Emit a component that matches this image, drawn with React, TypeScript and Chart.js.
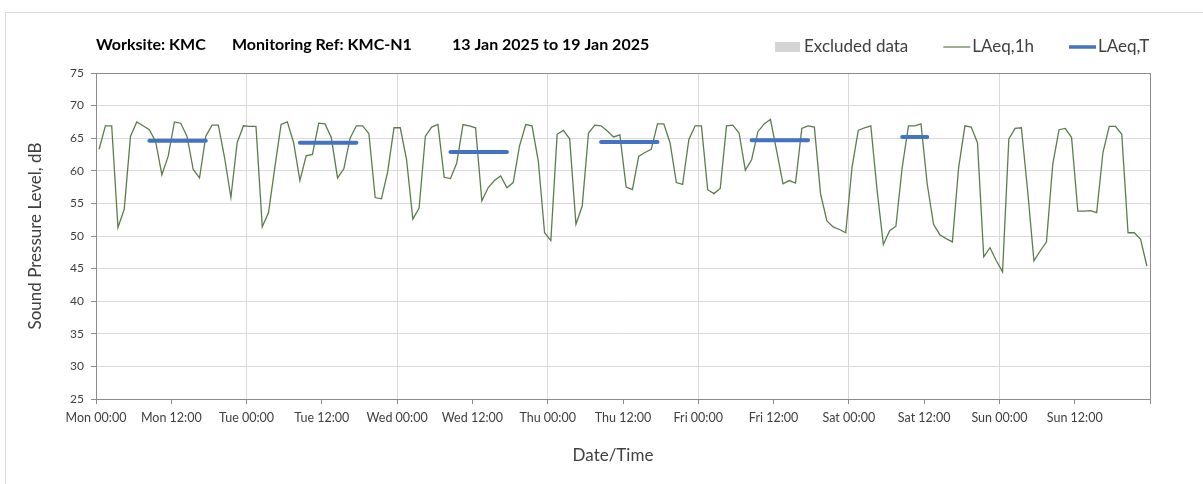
import React, { useEffect, useRef } from "react";
import { Chart, registerables } from "chart.js";

Chart.register(...registerables);

// ---- Text ----
const titleParts = ["Worksite: KMC", "Monitoring Ref: KMC-N1", "13 Jan 2025 to 19 Jan 2025"];
const yAxisTitle = "Sound Pressure Level, dB";
const xAxisTitle = "Date/Time";
const dayNames = ["Mon", "Tue", "Wed", "Thu", "Fri", "Sat", "Sun"];
const tickTimes = ["00:00", "12:00"];
const legendLabels = ["Excluded data", "LAeq,1h", "LAeq,T"];

// ---- LAeq,1h hourly values (dB), one array per day, hours 00..23 ----
const monHourly = [63.3, 66.9, 66.9, 51.3, 54.1, 65.3, 67.5, 66.9, 66.3, 64.5, 59.4, 62.2, 67.5, 67.3, 65.3, 60.2, 58.9, 65.3, 67.0, 67.0, 62.0, 55.9, 64.3, 66.9];
const tueHourly = [66.8, 66.8, 51.4, 53.6, 60.5, 67.1, 67.5, 64.3, 58.5, 62.3, 62.5, 67.3, 67.2, 65.1, 58.9, 60.3, 65.0, 66.9, 66.9, 65.7, 55.9, 55.7, 59.9, 66.6];
const wedHourly = [66.6, 61.7, 52.6, 54.3, 65.3, 66.7, 67.1, 59.0, 58.8, 61.2, 67.1, 66.9, 66.6, 55.4, 57.4, 58.5, 59.2, 57.4, 58.2, 63.8, 67.1, 66.9, 61.5, 50.5];
const thuHourly = [49.3, 65.6, 66.2, 64.9, 51.8, 54.6, 65.8, 67.0, 66.9, 66.1, 65.2, 65.5, 57.5, 57.1, 62.2, 62.8, 63.3, 67.2, 67.2, 64.3, 58.2, 57.9, 64.8, 66.9];
const friHourly = [66.9, 57.1, 56.5, 57.3, 66.9, 67.0, 65.8, 60.1, 61.7, 66.0, 67.2, 67.9, 63.0, 58.0, 58.5, 58.1, 66.5, 66.9, 66.7, 56.4, 52.3, 51.4, 51.0, 50.5];
const satHourly = [60.5, 66.2, 66.6, 66.9, 57.0, 48.7, 50.8, 51.5, 60.5, 66.9, 66.9, 67.2, 57.9, 51.8, 50.2, 49.6, 49.1, 60.5, 66.9, 66.7, 64.3, 46.8, 48.2, 46.2];
const sunHourly = [44.5, 64.9, 66.5, 66.6, 56.9, 46.2, 47.7, 49.1, 61.0, 66.3, 66.5, 65.1, 53.8, 53.8, 53.9, 53.6, 62.8, 66.8, 66.8, 65.6, 50.5, 50.5, 49.5, 45.4];

// ---- LAeq,T period values (dB), Mon..Sat, with the hours they cover ----
const laeqTValues = [64.6, 64.3, 62.9, 64.4, 64.7, 65.2];
const laeqTStartHour = [8, 8, 8, 8, 8, 8];
const laeqTEndHour = [17, 17, 17, 17, 17, 12];

// ---- Axis ----
const yMin = 25;
const yMax = 75;
const yStep = 5;
const xStepHours = 12;

const COLORS = {
  laeq1h: "#5b7d4c",
  laeqT: "#4472c4",
  excluded: "#d4d4d4",
  grid: "#d9d9d9",
  axis: "#8c8c8c",
  text: "#404040",
};

export default function App() {
  const canvasRef = useRef<HTMLCanvasElement | null>(null);

  useEffect(() => {
    const canvas = canvasRef.current;
    if (!canvas) return;

    const hourly = [...monHourly, ...tueHourly, ...wedHourly, ...thuHourly, ...friHourly, ...satHourly, ...sunHourly];
    const totalHours = hourly.length;
    const data1h = hourly.map((v, i) => ({ x: i + 0.5, y: v }));

    const dataT: { x: number; y: number | null }[] = [];
    laeqTValues.forEach((v, d) => {
      for (let h = laeqTStartHour[d]; h <= laeqTEndHour[d]; h++) {
        dataT.push({ x: d * 24 + h + 0.5, y: v });
      }
      dataT.push({ x: d * 24 + 23.5, y: null });
    });

    const fontFamily = "Lato, 'Open Sans', sans-serif";

    const overlayPlugin = {
      id: "overlay",
      beforeDatasetsDraw(chart: any) {
        const { ctx, chartArea } = chart;
        ctx.save();
        ctx.strokeStyle = COLORS.axis;
        ctx.lineWidth = 1;
        ctx.strokeRect(
          Math.round(chartArea.left) + 0.5,
          Math.round(chartArea.top) + 0.5,
          Math.round(chartArea.right - chartArea.left),
          Math.round(chartArea.bottom - chartArea.top)
        );
        ctx.restore();
      },
      afterDraw(chart: any) {
        const { ctx, chartArea } = chart;
        ctx.save();
        // Title
        ctx.fillStyle = "#000000";
        ctx.textBaseline = "middle";
        ctx.textAlign = "left";
        ctx.font = `bold 16px ${fontFamily}`;
        const titleX = [96, 232, 452];
        titleParts.forEach((t, i) => ctx.fillText(t, titleX[i], 45));

        // X axis title
        ctx.font = `17px ${fontFamily}`;
        ctx.fillStyle = COLORS.text;
        ctx.textAlign = "center";
        ctx.fillText(xAxisTitle, (chartArea.left + chartArea.right) / 2 - 10, 456);

        // Legend
        ctx.textAlign = "left";
        let x = 775;
        const y = 47;
        legendLabels.forEach((label, i) => {
          if (i === 0) {
            ctx.fillStyle = COLORS.excluded;
            ctx.fillRect(x, y - 5, 25, 10);
          } else {
            ctx.beginPath();
            ctx.strokeStyle = i === 1 ? COLORS.laeq1h : COLORS.laeqT;
            ctx.lineWidth = i === 1 ? 1.2 : 3.5;
            ctx.moveTo(x, y);
            ctx.lineTo(x + 27, y);
            ctx.stroke();
          }
          x += 29;
          ctx.fillStyle = COLORS.text;
          ctx.fillText(label, x, y);
          x += ctx.measureText(label).width + 35;
        });
        ctx.restore();
      },
    };

    const chart = new Chart(canvas, {
      type: "line",
      data: {
        datasets: [
          {
            label: legendLabels[2],
            data: dataT as any,
            borderColor: COLORS.laeqT,
            backgroundColor: COLORS.laeqT,
            borderWidth: 4,
            borderCapStyle: "round",
            pointRadius: 0,
            spanGaps: false,
            order: 0,
          },
          {
            label: legendLabels[1],
            data: data1h,
            borderColor: COLORS.laeq1h,
            backgroundColor: COLORS.laeq1h,
            borderWidth: 1.3,
            pointRadius: 0,
            tension: 0,
            order: 1,
          },
          {
            label: legendLabels[0],
            data: [],
            borderColor: COLORS.excluded,
            backgroundColor: COLORS.excluded,
            order: 2,
          },
        ],
      },
      options: {
        responsive: false,
        animation: false,
        devicePixelRatio: 1,
        layout: { padding: { top: 73, right: 53, left: 0, bottom: 0 } },
        plugins: {
          legend: { display: false },
          title: { display: false },
          tooltip: { enabled: false },
        },
        scales: {
          x: {
            type: "linear",
            min: 0,
            max: totalHours,
            afterFit: (s: any) => {
              s.height = 85;
            },
            border: { display: true, color: COLORS.axis },
            grid: {
              color: (c: any) => (c.tick && c.tick.value % 24 === 0 ? COLORS.grid : "rgba(0,0,0,0)"),
              tickColor: COLORS.axis,
              tickLength: 5,
              drawTicks: true,
            },
            ticks: {
              stepSize: xStepHours,
              autoSkip: false,
              maxRotation: 0,
              minRotation: 0,
              padding: 6,
              color: COLORS.text,
              font: { family: fontFamily, size: 12.5 },
              callback: (v: any) => {
                const n = Number(v);
                if (n >= totalHours) return "";
                const d = Math.floor(n / 24);
                return `${dayNames[d]} ${tickTimes[(n % 24) / 12]}`;
              },
            },
            title: { display: false },
          },
          y: {
            min: yMin,
            max: yMax,
            afterFit: (s: any) => {
              s.width = 96;
            },
            border: { display: true, color: COLORS.axis },
            grid: {
              color: COLORS.grid,
              tickColor: COLORS.axis,
              tickLength: 5,
            },
            ticks: {
              stepSize: yStep,
              padding: 7,
              color: COLORS.text,
              font: { family: fontFamily, size: 12 },
            },
            title: {
              display: true,
              text: yAxisTitle,
              color: COLORS.text,
              font: { family: fontFamily, size: 17 },
              padding: { top: 25, bottom: 0 },
            },
          },
        },
      },
      plugins: [overlayPlugin],
    } as any);

    return () => chart.destroy();
  }, []);

  return (
    <div style={{ position: "fixed", left: 0, top: 0, width: 1203, height: 484, background: "#ffffff", overflow: "hidden" }}>
      <div
        style={{
          position: "absolute",
          left: 5,
          top: 12,
          width: 1300,
          height: 600,
          border: "1px solid #d9d9d9",
        }}
      />
      <canvas ref={canvasRef} width={1203} height={484} style={{ position: "absolute", left: 0, top: 0 }} />
    </div>
  );
}
